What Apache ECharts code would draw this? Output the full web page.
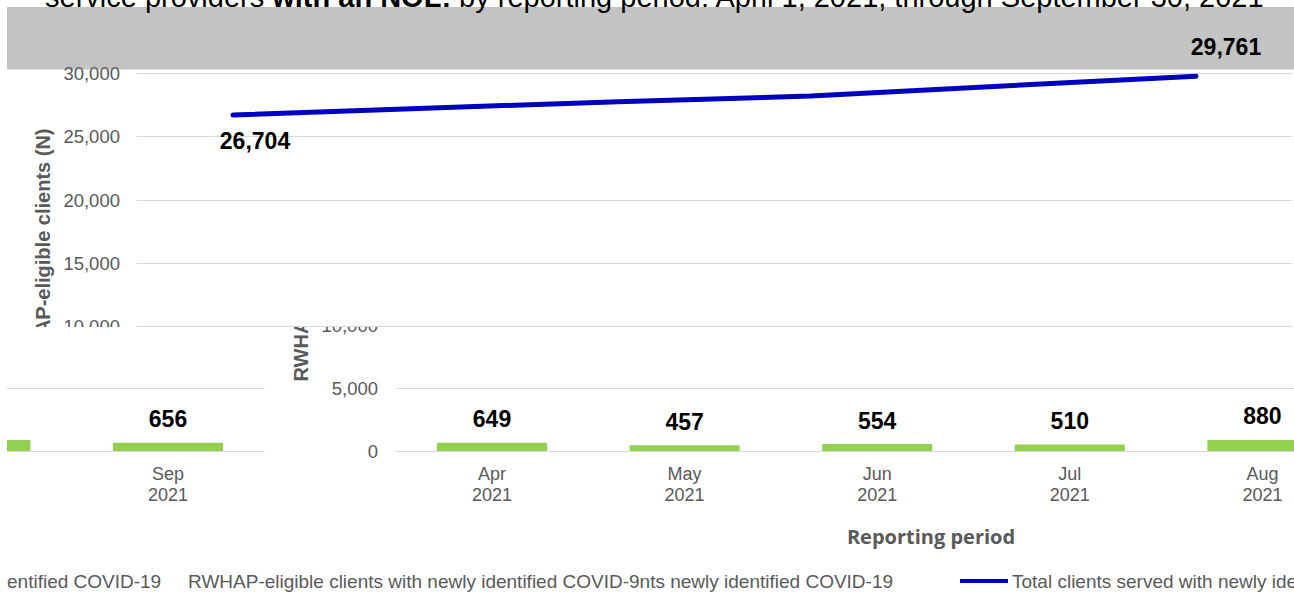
<!DOCTYPE html>
<html>
<head>
<meta charset="utf-8">
<script src="https://cdn.jsdelivr.net/npm/echarts@6/dist/echarts.min.js"></script>
<style>
html,body{margin:0;padding:0;background:#ffffff;}
#chart{width:1294px;height:594px;}
</style>
</head>
<body>
<div id="chart"></div>
<script>
// ---- data ----
const categories = ['Apr 2021', 'May 2021', 'Jun 2021', 'Jul 2021', 'Aug 2021', 'Sep 2021'];
const newlyIdentified = [649, 457, 554, 510, 880, 656];
const totalServed = [26704, 27250, 27750, 28200, 29000, 29761];
const upperAxisRange = [10000, 30000];
const lowerAxisRange = [0, 10000];
const tickStep = 5000;
const seriesNames = [
  'RWHAP-eligible clients with newly identified COVID-19',
  'Total clients served with newly identified COVID-19'
];
const axisTitles = ['RWHAP-eligible clients (N)', 'Reporting period'];
const titleText = 'service providers {b|with an NOL:} by reporting period: April 1, 2021, through September 30, 2021';
const legendFragments = [
  'entified COVID-19',
  'RWHAP-eligible clients with newly identified COVID-9nts newly identified COVID-19',
  'Total clients served with newly identified COVID-19'
];

const FONT = 'Liberation Sans, Arial, sans-serif';
const GREY = '#595959';
const GRID = '#d9d9d9';
const NAVY = '#0000bf';
const GREEN = '#92d050';

const chart = echarts.init(document.getElementById('chart'), null, {renderer: 'svg'});

const fmt = v => Number(v).toLocaleString('en-US');
const catFmt = v => v.replace(' ', '\n');

const barLabel = {
  show: true, position: 'top', distance: 12,
  fontFamily: FONT, fontSize: 23, fontWeight: 'bold', color: '#000'
};

const lineData = totalServed.map((v, i) => {
  if (i === 0) {
    return {value: v, label: {show: true, position: 'bottom', distance: 13, offset: [22, 0]}};
  }
  if (i === totalServed.length - 1) {
    return {value: v, label: {show: true, position: 'top', distance: 17, offset: [30, 0]}};
  }
  return {value: v, label: {show: false}};
});

const xAxisCommon = {
  type: 'category',
  data: categories,
  axisTick: {show: false},
  axisLine: {lineStyle: {color: GRID, width: 1}},
  axisLabel: {interval: 0, color: GREY, fontFamily: FONT, fontSize: 18, lineHeight: 21, margin: 12, formatter: catFmt}
};

const option = {
  animation: false,
  backgroundColor: '#ffffff',
  grid: [
    {left: 136.7, top: 73.3, width: 1155.6, height: 253.4, outerBoundsMode: 'none', containLabel: false},
    {left: 395.7, top: 325, width: 1155.6, height: 126, outerBoundsMode: 'none', containLabel: false},
    {left: -891.3, top: 388, width: 1155.6, height: 63, outerBoundsMode: 'none', containLabel: false}
  ],
  xAxis: [
    Object.assign({}, xAxisCommon, {gridIndex: 0, show: false, z: 6}),
    Object.assign({}, xAxisCommon, {
      gridIndex: 1, z: 1,
      name: axisTitles[1], nameLocation: 'middle', nameGap: 75,
      nameTextStyle: {fontFamily: 'Open Sans', fontWeight: 'bold', fontSize: 20, color: GREY, padding: [0, 85, 0, 0]}
    }),
    Object.assign({}, xAxisCommon, {gridIndex: 2, z: 9})
  ],
  yAxis: [
    {
      gridIndex: 0, type: 'value', min: upperAxisRange[0], max: upperAxisRange[1], interval: tickStep, z: 6,
      axisLine: {show: false}, axisTick: {show: false},
      axisLabel: {color: GREY, fontFamily: FONT, fontSize: 18.5, margin: 16.7, formatter: fmt},
      splitLine: {lineStyle: {color: GRID, width: 1}},
      name: axisTitles[0], nameLocation: 'middle', nameGap: 81,
      nameTextStyle: {fontFamily: FONT, fontWeight: 'bold', fontSize: 20, color: GREY, padding: [0, 110, 0, 0]}
    },
    {
      gridIndex: 1, type: 'value', min: lowerAxisRange[0], max: lowerAxisRange[1], interval: tickStep, z: 1,
      axisLine: {show: false}, axisTick: {show: false},
      axisLabel: {color: GREY, fontFamily: FONT, fontSize: 18.5, margin: 17.7, formatter: fmt},
      splitLine: {lineStyle: {color: GRID, width: 1}},
      name: axisTitles[0], nameLocation: 'middle', nameGap: 81,
      nameTextStyle: {fontFamily: FONT, fontWeight: 'bold', fontSize: 20, color: GREY, padding: [0, 0, 0, 266]}
    },
    {
      gridIndex: 2, type: 'value', min: 0, max: tickStep, interval: tickStep, z: 9,
      axisLine: {show: false}, axisTick: {show: false}, axisLabel: {show: false},
      splitLine: {lineStyle: {color: GRID, width: 1}}
    }
  ],
  series: [
    {
      name: seriesNames[0], type: 'bar', xAxisIndex: 1, yAxisIndex: 1, z: 2,
      data: newlyIdentified, barWidth: 110, itemStyle: {color: GREEN}, label: barLabel
    },
    {
      name: seriesNames[0], type: 'bar', xAxisIndex: 2, yAxisIndex: 2, z: 10,
      data: newlyIdentified, barWidth: 110, itemStyle: {color: GREEN}, label: barLabel
    },
    {
      name: seriesNames[1], type: 'line', xAxisIndex: 0, yAxisIndex: 0, z: 7,
      data: lineData, symbol: 'circle', symbolSize: 2, showSymbol: true,
      itemStyle: {color: 'rgba(0,0,0,0)'},
      lineStyle: {color: NAVY, width: 5, cap: 'round'},
      label: {fontFamily: FONT, fontSize: 23, fontWeight: 'bold', color: '#000', formatter: p => fmt(p.value)}
    }
  ],
  graphic: [
    {type: 'rect', z: 3, silent: true, shape: {x: 0, y: 0, width: 1294, height: 327}, style: {fill: '#ffffff'}},
    {type: 'rect', z: 4, silent: true, shape: {x: 7, y: 7, width: 1287, height: 62.5}, style: {fill: '#c3c3c3'}},
    {type: 'text', z: 5, silent: true, x: 45, y: -3,
      style: {text: titleText, fill: '#000', fontFamily: FONT, fontSize: 29, verticalAlign: 'middle', align: 'left',
        rich: {b: {fontFamily: FONT, fontSize: 29, fontWeight: 'bold', fill: '#000'}}}},
    {type: 'rect', z: 8, silent: true, shape: {x: 0, y: 327, width: 272, height: 267}, style: {fill: '#ffffff'}},
    {type: 'text', z: 11, silent: true, x: 7, y: 581,
      style: {text: legendFragments[0], fill: GREY, fontFamily: FONT, fontSize: 19, verticalAlign: 'middle', align: 'left'}},
    {type: 'text', z: 11, silent: true, x: 188, y: 581,
      style: {text: legendFragments[1], fill: GREY, fontFamily: FONT, fontSize: 19, verticalAlign: 'middle', align: 'left'}},
    {type: 'line', z: 11, silent: true, shape: {x1: 960, y1: 581, x2: 1008, y2: 581},
      style: {stroke: NAVY, lineWidth: 4}},
    {type: 'text', z: 11, silent: true, x: 1012, y: 581,
      style: {text: legendFragments[2], fill: GREY, fontFamily: FONT, fontSize: 19, verticalAlign: 'middle', align: 'left'}},
    {type: 'rect', z: 12, silent: true, shape: {x: 0, y: 0, width: 7, height: 594}, style: {fill: '#ffffff'}}
  ]
};

chart.setOption(option);
</script>
</body>
</html>
